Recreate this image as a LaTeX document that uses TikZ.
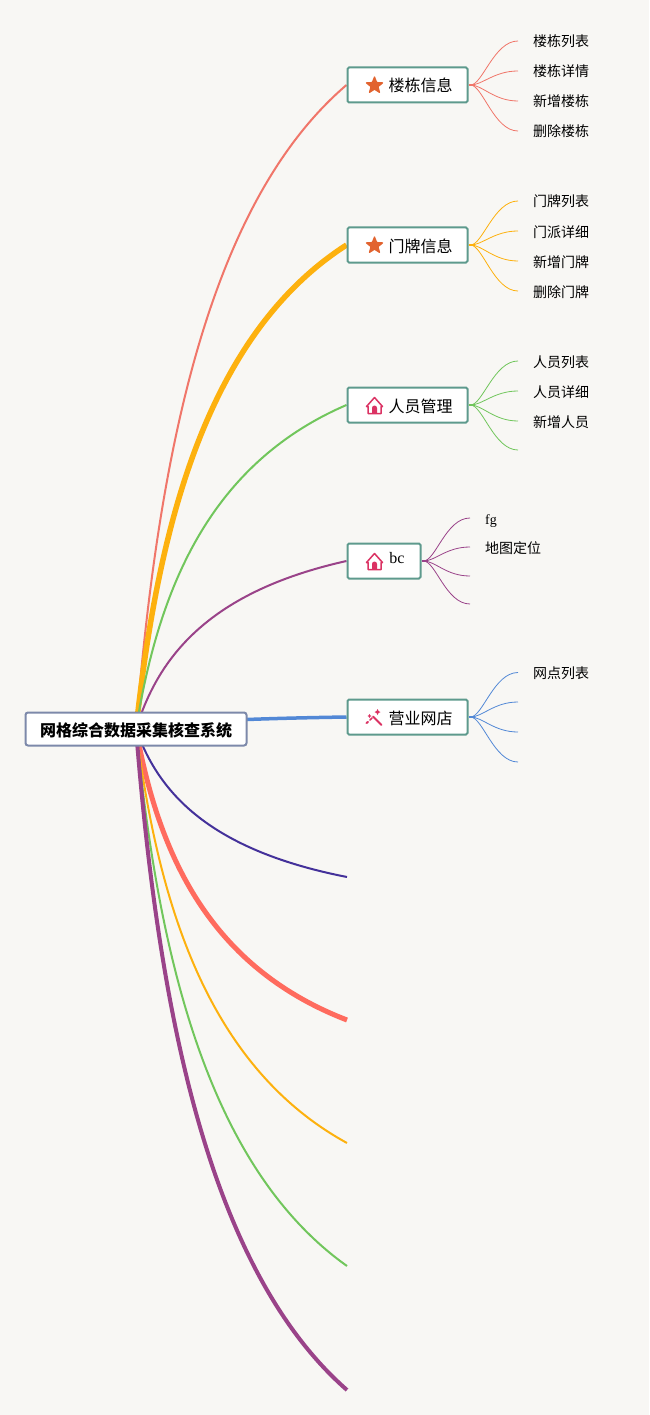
\documentclass[tikz,border=0pt]{standalone}
\usepackage{fontspec}
\setmainfont{Liberation Serif}
\newfontfamily\cjk{Noto Sans CJK SC}
\usetikzlibrary{backgrounds,shapes.geometric,calc}
\definecolor{bgc}{HTML}{F8F7F4}
\definecolor{cred}{HTML}{F0766A}
\definecolor{cyel}{HTML}{FDB10E}
\definecolor{cgrn}{HTML}{71C65C}
\definecolor{cpur}{HTML}{9A4389}
\definecolor{cblu}{HTML}{5288D6}
\definecolor{cind}{HTML}{44319A}
\definecolor{ccor}{HTML}{FF6B5E}
\definecolor{cbox}{HTML}{5E9A8D}
\definecolor{croot}{HTML}{7D89AA}
\definecolor{cstar}{HTML}{E2632F}
\definecolor{cicon}{HTML}{DB3263}
\tikzset{
  rootbox/.style={draw=croot,line width=2pt,fill=white,rounded corners=2.5pt,minimum width=221pt,minimum height=33pt,inner sep=0pt,text height=14pt,text depth=0pt,font=\cjk\bfseries\fontsize{16}{18}\selectfont},
  topicbox/.style={draw=cbox,line width=2pt,fill=white,rounded corners=1.5pt,minimum height=35pt,anchor=west,inner ysep=0pt,inner xsep=15pt,text height=14pt,text depth=0pt,font=\cjk\fontsize{16}{18}\selectfont},
  leafnode/.style={anchor=west,inner xsep=15pt,inner ysep=0pt,text height=12pt,text depth=0pt,font=\cjk\fontsize{14}{16}\selectfont},
  starmark/.style={star,star points=5,star point ratio=2.3,fill=cstar,draw=cstar,line width=1.2pt,line join=round,minimum size=17pt,inner sep=0pt},
  iconline/.style={draw=cicon,line width=1.5pt,line join=round,line cap=round}
}
\newcommand{\branchline}[3]{%
  \draw[#1,line width=#2] let \p1=(root.center),\p2=(#3) in (\p1) .. controls ({\x1+0.1*(\x2-\x1)},{\y1+0.4*(\y2-\y1)}) and ({\x2-0.68*(\x2-\x1)},{\y2-0.19*(\y2-\y1)}) .. (\p2);}
\newcommand{\leafline}[3]{%
  \draw[#1,line width=0.8pt] let \p1=(#2.east),\p2=(#3.west) in ($(\p1)+(2,0)$) .. controls ($(\p1)+(14,0)$) and ($(\p2)+(-24,0)$) .. (\p2);}
\newcommand{\stub}[2]{\draw[#1,line width=2pt] (#2.east) -- ++(5,0);}
\newcommand{\houseicon}[2]{%
  \begin{scope}[shift={(#1,#2)}]
    \draw[iconline] (-8,1) -- (0,-8) -- (8,1) -- (6.5,1) -- (6.5,8) -- (-6.5,8) -- (-6.5,1) -- cycle;
    \fill[cicon] (-2.5,8) -- (-2.5,2.5) arc[start angle=180,end angle=360,radius=2.5] -- (2.5,8) -- cycle;
  \end{scope}}
\begin{document}
\begin{tikzpicture}[x=1pt,y=-1pt]
\useasboundingbox (0,0) rectangle (649,1415);
% nodes
\node[rootbox] (root) at (136,729) {网格综合数据采集核查系统};
\node[topicbox] (t1) at (346.5,85) {\hspace*{26pt}楼栋信息};
\node[topicbox] (t2) at (346.5,245) {\hspace*{26pt}门牌信息};
\node[topicbox] (t3) at (346.5,405) {\hspace*{26pt}人员管理};
\node[topicbox,minimum width=73pt] (t4) at (346.5,561) {\hspace*{26pt}\raisebox{5pt}{\rmfamily bc}};
\node[topicbox] (t5) at (346.5,717) {\hspace*{26pt}营业网店};
\coordinate (e1) at (347,877);
\coordinate (e2) at (347,1020);
\coordinate (e3) at (347,1143);
\coordinate (e4) at (347,1266);
\coordinate (e5) at (347,1390);
% icons
\node[starmark] (s1) at (374.5,85.5) {};
\node[starmark] (s2) at (374.5,245.5) {};
\houseicon{374.5}{405.5}
\houseicon{374.5}{561.5}
\begin{scope}[shift={(374.5,718)}]
  \draw[cicon,line width=2pt,line cap=round] (-1.5,-1.5) -- (7,7);
  \draw[cicon,line width=2pt,line cap=round] (-8,5) -- (-6.5,4);
  \draw[cicon,line width=1.5pt,line cap=round] (-4.5,2) -- (-2.5,0);
  \fill[cicon] (3,-9) -- (4,-7) -- (6,-6) -- (4,-5) -- (3,-3) -- (2,-5) -- (0,-6) -- (2,-7) -- cycle;
  \fill[cicon] (-5,-4) -- (-4.3,-2.7) -- (-3,-2) -- (-4.3,-1.3) -- (-5,0) -- (-5.7,-1.3) -- (-7,-2) -- (-5.7,-2.7) -- cycle;
\end{scope}
% leaves
\node[leafnode] (a1) at (518,41) {楼栋列表};
\node[leafnode] (a2) at (518,71) {楼栋详情};
\node[leafnode] (a3) at (518,101) {新增楼栋};
\node[leafnode] (a4) at (518,131) {删除楼栋};
\node[leafnode] (b1) at (518,201) {门牌列表};
\node[leafnode] (b2) at (518,231) {门派详细};
\node[leafnode] (b3) at (518,261) {新增门牌};
\node[leafnode] (b4) at (518,291) {删除门牌};
\node[leafnode] (c1) at (518,361) {人员列表};
\node[leafnode] (c2) at (518,391) {人员详细};
\node[leafnode] (c3) at (518,421) {新增人员};
\node[leafnode] (c4) at (518,450) {};
\node[leafnode] (d1) at (470,518) {\rmfamily fg};
\node[leafnode] (d2) at (470,547) {地图定位};
\node[leafnode] (d3) at (470,576) {};
\node[leafnode] (d4) at (470,604) {};
\node[leafnode] (f1) at (518,672.5) {网点列表};
\node[leafnode] (f2) at (518,702) {};
\node[leafnode] (f3) at (518,732) {};
\node[leafnode] (f4) at (518,762) {};
% connectors
\begin{pgfonlayer}{background}
\fill[bgc] (0,0) rectangle (649,1415);
\branchline{cred}{2pt}{t1.west}
\branchline{cyel}{5.5pt}{t2.west}
\branchline{cgrn}{2pt}{t3.west}
\branchline{cpur}{2pt}{t4.west}
\branchline{cblu}{3.5pt}{t5.west}
\branchline{cind}{2pt}{e1}
\branchline{ccor}{5pt}{e2}
\branchline{cyel}{2pt}{e3}
\branchline{cgrn}{2pt}{e4}
\branchline{cpur}{4pt}{e5}
\foreach \lf in {a1,a2,a3,a4}{\leafline{cred}{t1}{\lf}}
\foreach \lf in {b1,b2,b3,b4}{\leafline{cyel}{t2}{\lf}}
\foreach \lf in {c1,c2,c3,c4}{\leafline{cgrn}{t3}{\lf}}
\foreach \lf in {d1,d2,d3,d4}{\leafline{cpur}{t4}{\lf}}
\foreach \lf in {f1,f2,f3,f4}{\leafline{cblu}{t5}{\lf}}
\stub{cred}{t1}
\stub{cyel}{t2}
\stub{cgrn}{t3}
\stub{cpur}{t4}
\stub{cblu}{t5}
\end{pgfonlayer}
\end{tikzpicture}
\end{document}
